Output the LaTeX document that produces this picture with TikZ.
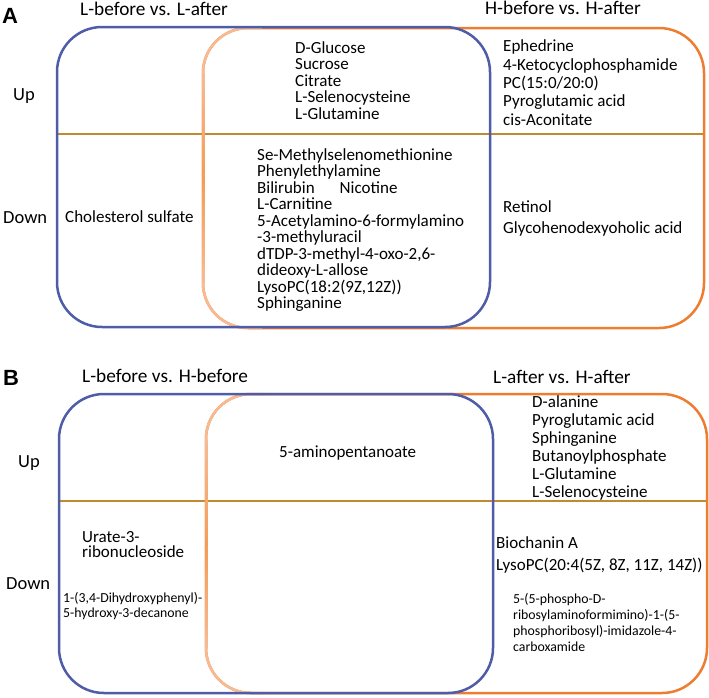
\documentclass[tikz,border=0pt]{standalone}
\usepackage{fontspec}
\setmainfont{Carlito}
\newfontfamily\panelfont{Liberation Sans}
\usepackage{xcolor}
\definecolor{vennblue}{HTML}{4F5DA8}
\definecolor{vennorange}{HTML}{ED7D31}
\definecolor{vennpeach}{HTML}{F6BB93}
\definecolor{vennmid}{HTML}{F59C55}
\definecolor{venngold}{HTML}{C08A2E}
\lineskiplimit=-20pt

\begin{document}
\begin{tikzpicture}[x=1pt,y=-1pt,
    every node/.style={inner sep=0pt,anchor=base west,align=left},
    panellabel/.style={font=\panelfont\bfseries\fontsize{22}{26}\selectfont},
    headtext/.style={font=\fontsize{19.3}{23}\selectfont},
    rowtext/.style={font=\fontsize{18.5}{22}\selectfont},
    listtext/.style={font=\fontsize{17}{16.5}\selectfont},
    widetext/.style={font=\fontsize{17}{18.3}\selectfont},
    smalltext/.style={font=\fontsize{13.8}{15.5}\selectfont},
    blueline/.style={draw=vennblue,line width=2.5pt,rounded corners=45pt},
    orangeline/.style={draw=vennorange,line width=2.5pt,rounded corners=45pt},
    peachline/.style={draw=vennpeach,line width=2.5pt,rounded corners=45pt},
    midline/.style={draw=venngold,line width=2pt}]
\useasboundingbox (0,0) rectangle (709,697);

% panel A (multi-line nodes sit on the baseline of their last line)
\coordinate (a-l) at (57,134);
\coordinate (a-r) at (704,134);
\draw[midline] (a-l) -- (a-r);
\draw[orangeline] (203,28) rectangle (704,328);
\draw[peachline] (262,28) -- (203,28) -- (203,328) -- (262,328);
\shade[top color=vennpeach,bottom color=vennmid] (201.75,73) rectangle (204.25,175);
\shade[top color=vennmid,bottom color=vennpeach] (201.75,175) rectangle (204.25,283);
\draw[blueline] (57,27) rectangle (490,327);

\node[panellabel] (a-tag) at (2,23) {A};
\node[headtext] (a-head-l) at (80,15) {L-before vs. L-after};
\node[headtext] (a-head-h) at (485,14) {H-before vs. H-after};
\node[rowtext] (a-up) at (13,100) {Up};
\node[rowtext] (a-down) at (3,223) {Down};

\node[listtext] (a-up-mid) at (295,119) {D-Glucose\\Sucrose\\Citrate\\L-Selenocysteine\\L-Glutamine};
\node[widetext] (a-up-h) at (503,125) {Ephedrine\\4-Ketocyclophosphamide\\PC(15:0/20:0)\\Pyroglutamic acid\\cis-Aconitate};
\node[listtext] (a-down-l) at (65,222) {Cholesterol sulfate};
\node[listtext] (a-down-mid) at (257,308.5) {Se-Methylselenomethionine\\Phenylethylamine\\Bilirubin\hspace{25pt}Nicotine\\L-Carnitine\\5-Acetylamino-6-formylamino\\-3-methyluracil\\dTDP-3-methyl-4-oxo-2,6-\\dideoxy-L-allose\\LysoPC(18:2(9Z,12Z))\\Sphinganine};
\node[listtext,font=\fontsize{17}{21}\selectfont] (a-down-h) at (503,233) {Retinol\\Glycohenodexyoholic acid};

% panel B
\coordinate (b-l) at (59,501);
\coordinate (b-r) at (707,501);
\draw[midline] (b-l) -- (b-r);
\draw[orangeline] (206,394) rectangle (707,693);
\draw[peachline] (265,394) -- (206,394) -- (206,693) -- (265,693);
\shade[top color=vennpeach,bottom color=vennmid] (204.75,440) rectangle (207.25,548);
\shade[top color=vennmid,bottom color=vennpeach] (204.75,548) rectangle (207.25,648);
\draw[blueline] (59,394) rectangle (493,693);

\node[panellabel] (b-tag) at (3,385) {B};
\node[headtext] (b-head-l) at (82,382) {L-before vs. H-before};
\node[headtext] (b-head-h) at (493,383) {L-after vs. H-after};
\node[rowtext] (b-up) at (18,467) {Up};
\node[rowtext] (b-down) at (6,589) {Down};

\node[listtext] (b-up-mid) at (279,457) {5-aminopentanoate};
\node[widetext,font=\fontsize{17}{18}\selectfont] (b-up-h) at (532,497) {D-alanine\\Pyroglutamic acid\\Sphinganine\\Butanoylphosphate\\L-Glutamine\\L-Selenocysteine};
\node[listtext,font=\fontsize{17}{15.5}\selectfont] (b-down-l) at (82,557.5) {Urate-3-\\ribonucleoside};
\node[smalltext,font=\fontsize{13.8}{15}\selectfont] (b-down-l2) at (63,617) {1-(3,4-Dihydroxyphenyl)-\\5-hydroxy-3-decanone};
\node[listtext,font=\fontsize{17}{22}\selectfont] (b-down-h) at (496,570) {Biochanin A\\LysoPC(20:4(5Z, 8Z, 11Z, 14Z))};
\node[smalltext,font=\fontsize{13.8}{16}\selectfont] (b-down-h2) at (513,651) {5-(5-phospho-D-\\ribosylaminoformimino)-1-(5-\\phosphoribosyl)-imidazole-4-\\carboxamide};
\end{tikzpicture}
\end{document}
